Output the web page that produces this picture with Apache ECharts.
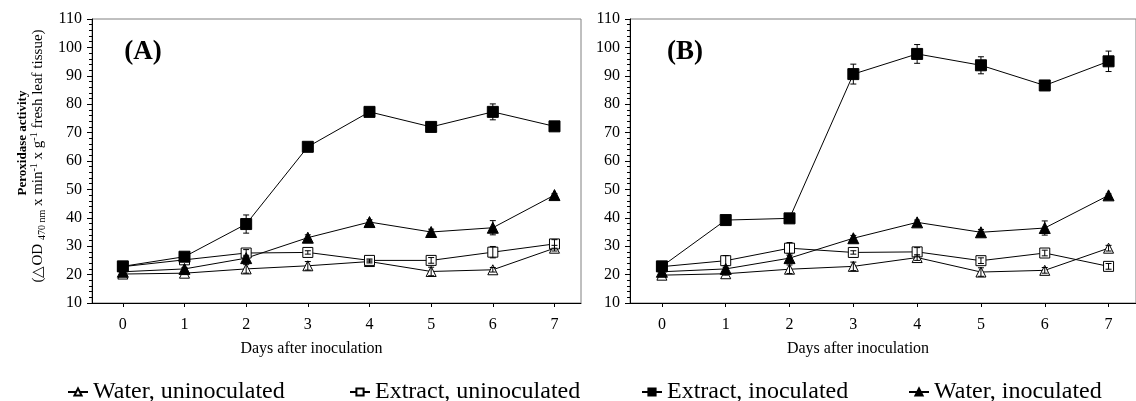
<!DOCTYPE html>
<html>
<head>
<meta charset="utf-8">
<script src="https://cdn.jsdelivr.net/npm/echarts@6.0.0/dist/echarts.min.js"></script>
<style>
  html, body { margin: 0; padding: 0; background: #fff; }
  #chart { width: 1136px; height: 401px; }
</style>
</head>
<body>
<div id="chart"></div>
<script>
// days after inoculation
var days = [0, 1, 2, 3, 4, 5, 6, 7];
var seriesNames = ['Water, uninoculated', 'Extract, uninoculated', 'Extract, inoculated', 'Water, inoculated'];

// panel (A)
var aWaterUn = [20.2, 20.5, 22.0, 23.1, 24.6, 21.1, 21.7, 29.3];
var aWaterUnErr = [0.3, 0.5, 1.5, 1.5, 0.5, 1.5, 0.8, 1.0];
var aExtUn = [22.8, 25.2, 27.6, 27.8, 25.0, 25.0, 27.9, 30.8];
var aExtUnErr = [0.3, 0.5, 1.2, 0.6, 0.5, 1.0, 2.0, 1.5];
var aExtIn = [22.9, 26.3, 37.8, 65.0, 77.3, 72.0, 77.3, 72.2];
var aExtInErr = [0.5, 0.5, 3.2, 1.0, 0.8, 1.5, 2.8, 1.0];
var aWaterIn = [21.0, 22.0, 25.8, 33.0, 38.5, 35.0, 36.5, 48.0];
var aWaterInErr = [0.3, 0.5, 1.0, 1.0, 0.8, 1.0, 2.5, 0.5];

// panel (B)
var bWaterUn = [19.8, 20.3, 21.9, 22.9, 26.0, 20.9, 21.5, 29.3];
var bWaterUnErr = [0.3, 0.5, 1.5, 1.5, 1.0, 1.5, 1.0, 1.0];
var bExtUn = [22.8, 24.9, 29.3, 27.8, 28.0, 24.9, 27.6, 22.9];
var bExtUnErr = [0.3, 1.8, 2.0, 0.6, 1.5, 1.0, 1.0, 1.0];
var bExtIn = [22.9, 39.2, 39.8, 90.6, 97.7, 93.7, 86.6, 95.1];
var bExtInErr = [0.5, 0.5, 0.5, 3.5, 3.3, 3.0, 0.5, 3.6];
var bWaterIn = [21.0, 22.0, 25.8, 32.8, 38.4, 34.9, 36.4, 47.9];
var bWaterInErr = [0.3, 0.5, 1.0, 1.0, 0.8, 1.0, 2.5, 0.5];

var FONT = '"Liberation Serif", "Times New Roman", serif';

var styles = [
  {symbol: 'triangle', size: 10, fill: '#fff'},
  {symbol: 'rect', size: 10, fill: '#fff'},
  {symbol: 'rect', size: 11, fill: '#000'},
  {symbol: 'triangle', size: 11, fill: '#000'}
];
// left edge of each legend entry
var legendLeft = [62, 344, 636, 903];

function pairs(vals) {
  var out = [];
  for (var i = 0; i < days.length; i++) out.push([days[i], vals[i]]);
  return out;
}
function errData(vals, errs) {
  var out = [];
  for (var i = 0; i < days.length; i++) out.push([days[i], vals[i] - errs[i], vals[i] + errs[i]]);
  return out;
}
function renderErr(params, api) {
  var x = api.value(0);
  var top = api.coord([x, api.value(2)]);
  var bot = api.coord([x, api.value(1)]);
  var w = 3;
  var st = {stroke: '#000', lineWidth: 1};
  return {
    type: 'group',
    children: [
      {type: 'line', shape: {x1: top[0], y1: top[1], x2: bot[0], y2: bot[1]}, style: st},
      {type: 'line', shape: {x1: top[0] - w, y1: top[1], x2: top[0] + w, y2: top[1]}, style: st},
      {type: 'line', shape: {x1: bot[0] - w, y1: bot[1], x2: bot[0] + w, y2: bot[1]}, style: st}
    ]
  };
}

function xAxisFor(idx) {
  return {
    type: 'value', gridIndex: idx, min: -0.5, max: 7.43,
    splitLine: {show: false},
    axisLine: {onZero: false, lineStyle: {color: '#000', width: 1}},
    axisTick: {customValues: days, length: 4, lineStyle: {color: '#000'}},
    axisLabel: {customValues: days, color: '#000', fontFamily: FONT, fontSize: 16, margin: 14},
    name: 'Days after inoculation', nameLocation: 'middle', nameGap: 38,
    nameTextStyle: {color: '#000', fontFamily: FONT, fontSize: 16, padding: [0, 50, 0, 0]}
  };
}
function yAxisFor(idx) {
  return {
    type: 'value', gridIndex: idx, min: 10, max: 110, interval: 10,
    splitLine: {show: false},
    axisLine: {show: true, onZero: false, lineStyle: {color: '#000', width: 1}},
    axisTick: {show: true, length: 5, lineStyle: {color: '#000'}},
    minorTick: {show: true, splitNumber: 5, length: 3, lineStyle: {color: '#000'}},
    axisLabel: {color: '#000', fontFamily: FONT, fontSize: 16, margin: 10}
  };
}

var panels = [
  [aWaterUn, aExtUn, aExtIn, aWaterIn],
  [bWaterUn, bExtUn, bExtIn, bWaterIn]
];
var panelErrs = [
  [aWaterUnErr, aExtUnErr, aExtInErr, aWaterInErr],
  [bWaterUnErr, bExtUnErr, bExtInErr, bWaterInErr]
];

var series = [];
for (var p = 0; p < 2; p++) {
  for (var s = 0; s < 4; s++) {
    series.push({
      name: seriesNames[s], type: 'line', xAxisIndex: p, yAxisIndex: p,
      data: pairs(panels[p][s]),
      symbol: styles[s].symbol, symbolSize: styles[s].size,
      lineStyle: {color: '#000', width: 1},
      itemStyle: {color: styles[s].fill, borderColor: '#000', borderWidth: 1},
      emphasis: {disabled: true}, z: 2
    });
    series.push({
      name: seriesNames[s], type: 'custom', xAxisIndex: p, yAxisIndex: p,
      data: errData(panels[p][s], panelErrs[p][s]),
      encode: {x: 0, y: [1, 2]}, renderItem: renderErr, z: 3, silent: true
    });
  }
}

var legends = [];
for (var k = 0; k < seriesNames.length; k++) {
  legends.push({
    data: [seriesNames[k]], left: legendLeft[k], top: 375,
    itemWidth: 20, itemHeight: 9,
    textStyle: {color: '#000', fontFamily: FONT, fontSize: 24}
  });
}

var option = {
  animation: false,
  backgroundColor: '#fff',
  grid: [
    {left: 92, top: 19, width: 489, height: 284, show: true, borderColor: '#808080', borderWidth: 1, backgroundColor: 'transparent'},
    {left: 630, top: 19, width: 520, height: 284, show: true, borderColor: '#808080', borderWidth: 1, backgroundColor: 'transparent'}
  ],
  xAxis: [xAxisFor(0), xAxisFor(1)],
  yAxis: [yAxisFor(0), yAxisFor(1)],
  legend: legends,
  graphic: [
    {type: 'text', x: 143, y: 52, style: {text: '(A)', font: 'bold 27px ' + FONT, fill: '#000', align: 'center', verticalAlign: 'middle'}},
    {type: 'text', x: 685, y: 52, style: {text: '(B)', font: 'bold 27px ' + FONT, fill: '#000', align: 'center', verticalAlign: 'middle'}},
    {type: 'text', x: 23, y: 143, rotation: Math.PI / 2,
      style: {text: 'Peroxidase activity', font: 'bold 13px ' + FONT, fill: '#000', align: 'center', verticalAlign: 'middle'}},
    {type: 'text', x: 38, y: 156, rotation: Math.PI / 2,
      style: {
        text: '(△OD {sub|470 nm} x min{sup|-1} x g{sup|-1} fresh leaf tissue)',
        fontFamily: FONT, fontSize: 15, lineHeight: 18, fill: '#000', align: 'center', verticalAlign: 'middle',
        rich: {
          sub: {fontFamily: FONT, fontSize: 10, verticalAlign: 'bottom', lineHeight: 10, fill: '#000'},
          sup: {fontFamily: FONT, fontSize: 10, verticalAlign: 'top', lineHeight: 10, fill: '#000'}
        }
      }}
  ],
  series: series
};

var myChart = echarts.init(document.getElementById('chart'));
myChart.setOption(option);
</script>
</body>
</html>
